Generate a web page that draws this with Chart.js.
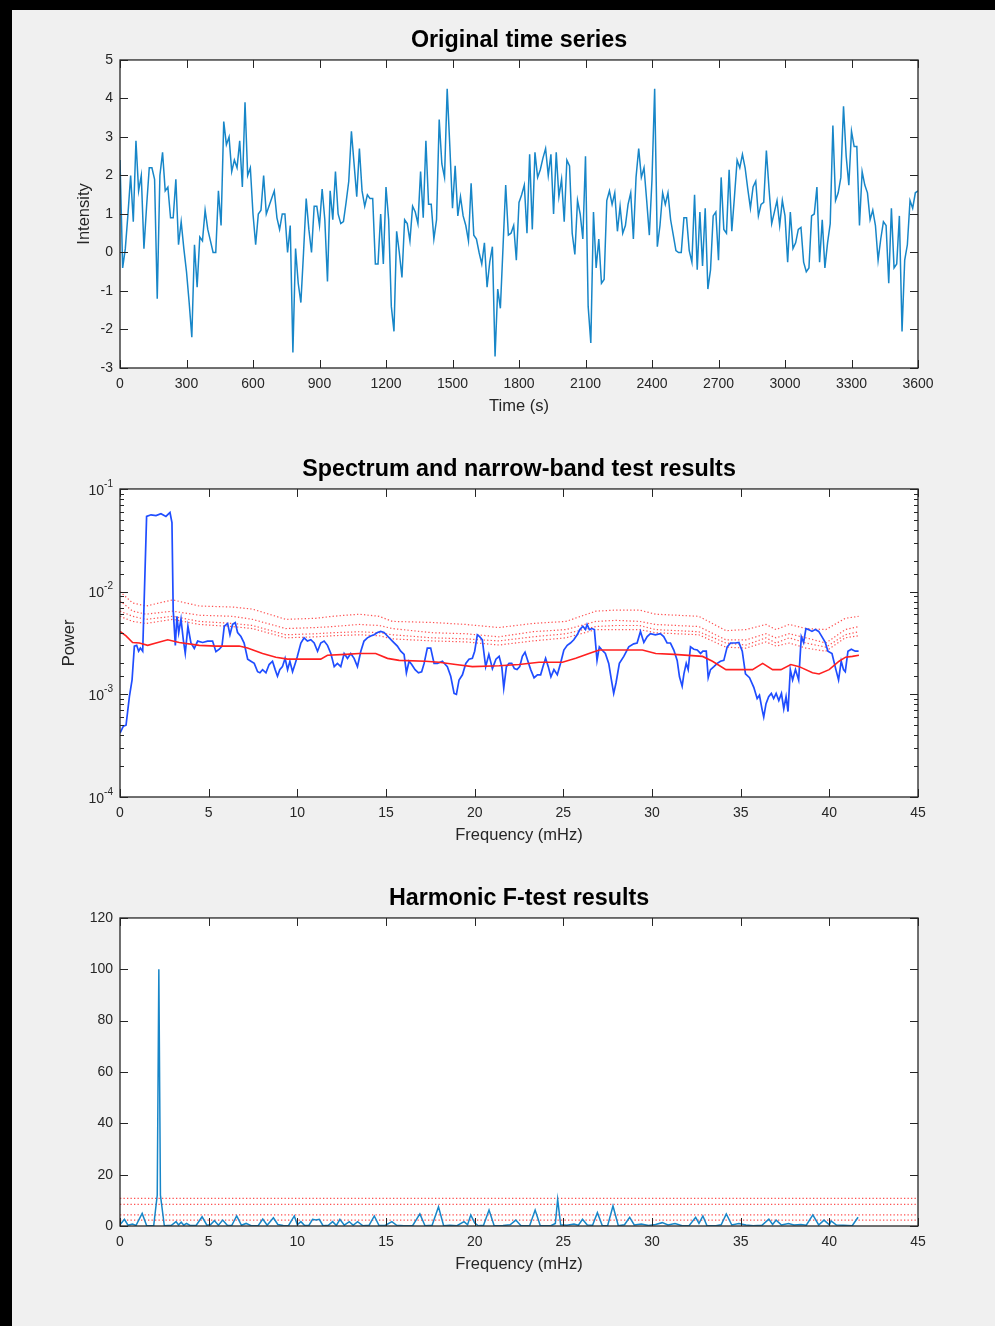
<!DOCTYPE html>
<html>
<head>
<meta charset="utf-8">
<script src="https://cdn.jsdelivr.net/npm/chart.js@4.4.1/dist/chart.umd.min.js"></script>
<style>
  body { margin: 0; width: 995px; height: 1326px; background: #000; position: relative; overflow: hidden; }
  #fig { position: absolute; left: 12px; top: 10px; width: 983px; height: 1316px; background: #f0f0f0; }
  .plot { position: absolute; left: 0; width: 995px; height: 429px; }
</style>
</head>
<body>
<div id="fig"></div>
<div class="plot" style="top:0px"><canvas id="seriesChart"></canvas></div>
<div class="plot" style="top:429px"><canvas id="spectrumChart"></canvas></div>
<div class="plot" style="top:858px"><canvas id="ftestChart"></canvas></div>
<script>
// ---------- data ----------

// original time series, one sample every 12 s from 0 to 3600 s
const dt = 12;
const intensity = [
  2.4,-0.4,0.1,1.0,2.0,0.8,2.9,1.6,2.0,0.1, 1.2,2.2,2.2,1.9,-1.2,2.0,2.6,1.6,1.7,0.9,
  0.9,1.9,0.2,0.8,0.1,-0.5,-1.3,-2.2,0.2,-0.9, 0.4,0.3,1.1,0.6,0.3,0.0,0.0,1.6,0.7,3.4,
  2.8,3.0,2.1,2.4,2.2,2.9,1.7,3.9,2.0,2.2, 1.0,0.2,1.0,1.1,2.0,1.0,1.2,1.4,1.6,0.9,
  0.6,1.0,1.0,0.0,0.7,-2.6,0.1,-0.8,-1.3,0.0, 1.4,0.6,0.0,1.2,1.2,
  0.7,1.65,0.85,-0.75,1.6,0.85,2.1,1.0,0.75,0.8, 1.3,1.85,3.15,2.3,1.45,2.7,1.6,1.2,1.5,1.4,
  1.4,-0.3,-0.3,1.0,-0.3,1.7,0.85,-1.4,-2.05,0.55, 0.0,-0.65,0.85,0.75,0.3,1.2,1.05,0.75,2.1,0.9,
  2.9,1.25,1.25,0.35,0.85,3.45,2.3,1.95,4.25,2.75, 1.15,2.25,0.95,1.45,0.95,0.7,0.3,1.8,0.45,0.35,
  0.0,-0.3,0.25,-0.9,-0.25,0.15,-2.7,-0.95,-1.45,0.15, 1.75,0.45,0.5,0.7,-0.2,
  1.3,1.5,1.75,0.5,2.55,0.6,2.6,1.95,2.15,2.45, 2.7,2.0,2.55,1.0,2.6,1.45,1.9,0.8,2.4,2.25,
  0.5,-0.05,1.35,1.0,0.35,2.5,-1.4,-2.35,1.05,-0.4, 0.35,-0.8,-0.7,1.35,1.6,1.25,1.55,0.55,1.2,0.5,
  0.7,1.25,1.55,0.35,1.95,2.7,1.95,2.2,1.35,0.45, 1.9,4.25,0.15,0.7,1.55,1.25,1.55,0.85,0.45,0.05,
  0.0,0.0,0.9,0.9,0.05,-0.25,1.5,-0.45,1.05,-0.35, 1.15,-0.95,-0.45,0.95,1.05,
  -0.2,1.95,0.6,0.5,2.15,0.55,1.45,2.4,2.2,2.55, 2.2,1.65,1.15,1.7,1.85,0.95,1.25,1.3,2.65,1.65,
  0.75,1.05,1.35,0.7,1.35,0.95,-0.25,1.05,0.1,0.25, 0.6,0.65,-0.25,-0.5,-0.4,0.95,1.0,1.7,-0.25,0.85,
  -0.4,0.25,0.75,3.3,1.35,1.55,1.95,3.8,2.5,1.75, 3.15,2.75,2.75,0.7,2.1,1.75,1.55,0.85,1.1,0.7,
  -0.2,0.35,0.8,0.7,-0.8,1.15,-0.4,-0.3,0.95,-2.05, -0.2,0.2,1.35,1.15,1.55,1.6
];

// spectrum (blue), mHz / power
const specFreq = [
  0,0.19,0.34,0.53,0.68,0.81,0.94,1.05,1.15,1.28,1.5,1.75,2.03,2.31,2.59,2.82,2.93,3.0,3.12,3.21,
  3.31,3.44,3.57,3.68,3.83,4.0,4.19,4.38,4.66,4.94,5.22,5.41,5.6,5.75,5.88,6.07,6.2,6.35,6.5,6.63,
  6.82,7.0,7.2,7.38,7.57,7.76,7.89,8.04,8.23,8.41,8.6,8.75,8.88,9.01,9.16,9.31,9.45,9.58,9.73,9.88,
  10.0,10.2,10.38,10.57,10.76,10.95,11.14,11.32,11.51,11.7,11.89,12.08,12.26,12.45,12.64,12.83,13.01,13.2,13.39,13.58,
  13.76,13.95,14.14,14.33,14.52,14.7,14.89,15.08,15.36,15.64,15.83,16.02,16.15,16.3,16.45,16.64,16.83,17.01,17.15,17.33,
  17.52,17.71,17.9,18.18,18.46,18.65,18.84,18.97,19.12,19.31,19.5,19.68,19.87,20.0,20.15,20.28,20.43,20.62,20.8,21.0,
  21.2,21.38,21.53,21.64,21.79,21.94,22.09,22.24,22.39,22.54,22.69,22.84,22.99,23.16,23.35,23.54,23.72,23.85,24.0,24.15,
  24.3,24.47,24.66,24.84,25.03,25.22,25.4,25.59,25.78,25.93,26.1,26.25,26.34,26.47,26.62,26.75,26.9,27.03,27.18,27.37,
  27.56,27.71,27.84,27.97,28.16,28.41,28.69,28.97,29.16,29.35,29.54,29.73,29.91,30.19,30.47,30.66,30.85,31.04,31.23,31.42,
  31.55,31.7,31.8,31.93,32.04,32.17,32.36,32.55,32.74,32.87,33.06,33.17,33.3,33.49,33.68,33.86,34.05,34.24,34.43,34.71,
  34.9,35.09,35.27,35.5,35.74,35.93,36.06,36.21,36.3,36.43,36.58,36.73,36.86,37.0,37.15,37.3,37.43,37.56,37.67,37.8,
  37.93,38.09,38.27,38.42,38.55,38.68,38.83,39.02,39.21,39.4,39.58,39.77,39.92,40.15,40.37,40.52,40.67,40.8,40.9,41.05,
  41.24,41.46,41.65
];
const specPower = [
  4.2e-4,4.9e-4,5.0e-4,9.5e-4,1.38e-3,2.95e-3,3.0e-3,2.63e-3,2.82e-3,2.63e-3,5.4e-2,5.6e-2,5.5e-2,5.75e-2,5.4e-2,5.9e-2,4.7e-2,6.6e-3,3.0e-3,5.75e-3,
  3.98e-3,5.4e-3,3.4e-3,2.5e-3,4.6e-3,3.16e-3,2.8e-3,3.3e-3,3.2e-3,3.3e-3,3.3e-3,2.6e-3,2.75e-3,2.95e-3,4.6e-3,4.9e-3,3.8e-3,4.8e-3,5.0e-3,4.0e-3,
  3.65e-3,3.16e-3,2.2e-3,2.1e-3,2.0e-3,1.66e-3,1.62e-3,1.74e-3,1.62e-3,1.95e-3,2.1e-3,1.74e-3,1.5e-3,1.74e-3,1.86e-3,2.24e-3,1.74e-3,2.1e-3,1.66e-3,2.0e-3,
  2.34e-3,3.16e-3,3.55e-3,3.3e-3,3.4e-3,3.16e-3,2.63e-3,3.16e-3,3.3e-3,3.0e-3,2.5e-3,1.86e-3,2.0e-3,1.86e-3,2.5e-3,2.24e-3,2.5e-3,2.24e-3,1.86e-3,2.63e-3,
  3.3e-3,3.55e-3,3.7e-3,3.8e-3,4.0e-3,4.1e-3,4.0e-3,3.7e-3,3.3e-3,2.95e-3,2.63e-3,2.45e-3,1.62e-3,2.1e-3,1.95e-3,1.74e-3,1.62e-3,1.66e-3,2.0e-3,2.82e-3,
  2.82e-3,2.0e-3,2.0e-3,2.1e-3,1.86e-3,1.5e-3,1.02e-3,1.0e-3,1.38e-3,1.55e-3,2.0e-3,2.2e-3,2.24e-3,2.63e-3,3.8e-3,3.65e-3,3.4e-3,1.86e-3,2.45e-3,1.78e-3,
  2.2e-3,2.34e-3,1.86e-3,1.15e-3,1.86e-3,2.0e-3,2.0e-3,1.78e-3,1.74e-3,1.86e-3,2.34e-3,2.57e-3,2.14e-3,1.74e-3,1.45e-3,1.55e-3,1.55e-3,1.86e-3,2.24e-3,1.86e-3,
  1.48e-3,1.74e-3,1.55e-3,2.0e-3,2.7e-3,3.0e-3,3.16e-3,3.4e-3,3.8e-3,4.27e-3,4.6e-3,4.27e-3,4.8e-3,4.27e-3,4.37e-3,4.27e-3,2.14e-3,2.9e-3,2.7e-3,2.5e-3,
  2.0e-3,1.38e-3,1.02e-3,1.29e-3,2.0e-3,2.34e-3,2.9e-3,3.1e-3,3.16e-3,4.1e-3,3.2e-3,3.65e-3,3.9e-3,3.8e-3,3.9e-3,3.65e-3,3.16e-3,3.16e-3,2.7e-3,2.14e-3,
  1.48e-3,1.2e-3,1.58e-3,2.0e-3,1.74e-3,2.9e-3,2.75e-3,2.7e-3,2.5e-3,2.63e-3,2.63e-3,1.45e-3,1.74e-3,1.86e-3,2.0e-3,2.1e-3,2.14e-3,2.9e-3,3.16e-3,3.16e-3,
  3.2e-3,2.63e-3,1.58e-3,1.45e-3,1.17e-3,9.1e-4,9.8e-4,7.1e-4,6.0e-4,8.1e-4,9.5e-4,1.02e-3,9.1e-4,1.02e-3,8.7e-4,1.02e-3,7.2e-4,9.5e-4,6.8e-4,1.74e-3,
  1.38e-3,1.74e-3,1.38e-3,3.65e-3,3.2e-3,4.37e-3,4.27e-3,4.1e-3,4.27e-3,4.1e-3,3.65e-3,3.2e-3,2.63e-3,2.5e-3,1.74e-3,1.38e-3,2.1e-3,1.74e-3,1.66e-3,2.63e-3,
  2.75e-3,2.63e-3,2.63e-3
];

// smoothed background spectrum (solid red)
const bgFreq = [0,0.34,0.71,1.09,1.56,2.03,2.69,3.34,4.47,5.41,6.72,7.19,8.04,8.79,9.45,10.1,11.32,11.7,12.73,13.48,
  14.42,15.08,15.74,17.24,17.99,18.93,19.87,21.38,22.5,23.63,24.95,25.7,26.45,27.02,27.96,29.46,30.21,31.25,32.85,33.41,
  34.17,34.92,35.67,36.24,36.8,37.27,37.83,38.3,39.05,39.42,39.99,40.55,40.92,41.3,41.67];
const bgPower = [4.1e-3,3.7e-3,3.2e-3,3.16e-3,3.0e-3,3.16e-3,3.4e-3,3.2e-3,3.0e-3,2.95e-3,2.95e-3,2.82e-3,2.5e-3,2.3e-3,2.2e-3,2.2e-3,2.2e-3,2.4e-3,2.45e-3,2.5e-3,
  2.5e-3,2.24e-3,2.14e-3,2.1e-3,2.05e-3,1.95e-3,1.86e-3,1.9e-3,1.95e-3,2.05e-3,2.05e-3,2.24e-3,2.5e-3,2.7e-3,2.7e-3,2.7e-3,2.5e-3,2.45e-3,2.34e-3,2.1e-3,
  1.74e-3,1.74e-3,1.74e-3,2.0e-3,1.74e-3,1.74e-3,1.95e-3,1.86e-3,1.62e-3,1.58e-3,1.74e-3,2.1e-3,2.3e-3,2.34e-3,2.4e-3];

// narrow-band significance levels (dotted red), top to bottom
const levFreq = [0,0.71,1.46,2.97,4.47,6.35,7.47,9.35,11.04,11.98,13.48,14.61,15.36,17.6,19.49,21.37,
  23.27,25.15,26.84,27.96,29.3,30.2,32.64,34.17,35.3,36.43,36.99,37.74,38.68,39.8,40.9,41.65];
const level1 = [1.0e-2,7.76e-3,7.24e-3,8.32e-3,7.24e-3,7.08e-3,6.76e-3,5.37e-3,5.5e-3,5.75e-3,6.03e-3,5.75e-3,5.13e-3,5.01e-3,4.79e-3,4.47e-3,
  4.9e-3,5.13e-3,6.46e-3,6.61e-3,6.61e-3,6.03e-3,5.75e-3,4.17e-3,4.27e-3,4.79e-3,4.27e-3,4.79e-3,4.37e-3,4.27e-3,5.5e-3,5.75e-3];
const level2 = [8.13e-3,6.46e-3,6.03e-3,6.46e-3,5.89e-3,5.75e-3,5.37e-3,4.37e-3,4.47e-3,4.57e-3,4.79e-3,4.68e-3,4.37e-3,3.98e-3,3.89e-3,3.63e-3,
  4.07e-3,4.27e-3,5.13e-3,5.25e-3,5.13e-3,4.79e-3,4.57e-3,3.39e-3,3.39e-3,3.89e-3,3.55e-3,3.89e-3,3.55e-3,3.16e-3,4.27e-3,4.57e-3];
const level3 = [6.46e-3,5.75e-3,5.37e-3,5.75e-3,5.13e-3,4.9e-3,4.68e-3,3.8e-3,3.89e-3,3.98e-3,4.07e-3,3.98e-3,3.8e-3,3.55e-3,3.47e-3,3.31e-3,
  3.63e-3,3.89e-3,4.57e-3,4.68e-3,4.68e-3,4.27e-3,4.07e-3,3.16e-3,3.02e-3,3.55e-3,3.16e-3,3.55e-3,3.16e-3,2.88e-3,3.8e-3,4.07e-3];
const level4 = [5.75e-3,5.13e-3,4.9e-3,5.37e-3,4.79e-3,4.57e-3,4.37e-3,3.55e-3,3.63e-3,3.72e-3,3.8e-3,3.72e-3,3.47e-3,3.31e-3,3.24e-3,3.02e-3,
  3.31e-3,3.55e-3,4.27e-3,4.27e-3,4.27e-3,3.98e-3,3.8e-3,2.88e-3,2.82e-3,3.24e-3,2.95e-3,3.16e-3,2.82e-3,2.63e-3,3.55e-3,3.72e-3];

// harmonic F-test statistic
const ftFreq = [0,0.25,0.45,0.7,0.9,1.25,1.5,1.9,2.1,2.19,2.28,2.5,2.9,3.16,3.3,3.45,3.6,3.75,3.95,4.3,
  4.63,4.9,5.1,5.32,5.55,5.79,6.05,6.3,6.58,6.85,7.11,7.4,7.8,8.05,8.3,8.65,8.9,9.2,9.5,9.83,
  10.0,10.2,10.4,10.65,10.86,11.05,11.24,11.45,11.75,11.99,12.2,12.4,12.65,12.93,13.15,13.4,13.7,14.05,14.34,14.6,
  14.95,15.33,15.6,16.0,16.5,16.91,17.2,17.6,17.96,18.25,18.6,19.0,19.4,19.6,19.78,20.0,20.2,20.5,20.81,21.1,
  21.6,22.0,22.32,22.6,23.1,23.41,23.7,24.3,24.55,24.68,24.85,25.2,25.6,25.85,26.08,26.35,26.65,26.92,27.2,27.5,
  27.8,28.1,28.45,28.74,29.0,29.4,29.8,30.2,30.58,30.9,31.3,31.7,32.1,32.46,32.65,32.87,33.1,33.6,33.9,34.19,
  34.5,34.9,35.3,35.7,36.2,36.59,36.8,37.0,37.3,37.7,38.0,38.4,38.7,39.07,39.4,39.7,40.0,40.1,40.4,40.8,
  41.29,41.62];
const ftValue = [0.5,2.6,0.3,0.8,0.2,4.9,0.2,0.1,12,100,12,0.1,0.3,1.7,0.4,1.5,0.3,1.0,0.2,0.3,
  3.6,0.3,0.5,2.1,0.3,2.3,0.3,0.2,3.9,0.3,1.0,0.1,0.2,2.7,0.3,3.2,0.6,0.2,0.1,3.9,
  0.5,1.7,0.3,0.2,2.6,2.3,2.6,0.1,0.3,1.7,0.2,2.6,0.3,1.7,0.3,1.7,0.1,0.3,3.9,0.3,
  0.2,1.7,0.3,0.1,0.1,4.7,0.1,0.3,7.5,0.1,0.3,0.1,1.7,0.5,4.3,1.2,0.1,0.3,6.2,0.1,
  0.2,0.5,2.3,0.2,0.1,6.2,0.1,0.1,1.0,10.4,0.5,0.3,0.8,0.3,2.6,0.4,0.3,5.2,0.1,0.2,
  7.8,0.1,0.5,3.4,0.4,0.8,0.2,0.6,1.3,0.4,1.0,0.1,0.2,3.4,1.0,3.9,0.1,0.1,0.5,4.7,
  0.4,1.0,0.4,0.1,0.3,2.7,0.6,2.3,0.4,1.0,0.4,0.6,0.3,4.3,0.4,2.3,0.5,2.0,0.4,0.3,
  0.1,3.4];
const ftLevels = [10.8, 8.4, 4.3, 2.3];

// ---------- styling ----------
const FONT = '"Liberation Sans", Helvetica, Arial, sans-serif';
const AXIS = '#262626';
const MBLUE = '#1786c8';
const SPEC_BLUE = '#1f4dff';
const RED = '#ff2020';
const DOT_RED = 'rgba(255,50,50,0.85)';

function pts(xs, ys) {
  return xs.map((x, i) => ({x: x, y: ys[i]}));
}

function isDecade(v) {
  const e = Math.log10(v);
  return Math.abs(e - Math.round(e)) < 1e-6;
}

// white axes, box, inward ticks and 10^n labels like a MATLAB figure
const matlabAxes = {
  id: 'matlabAxes',
  beforeDraw(chart) {
    const {ctx, chartArea: a} = chart;
    ctx.save();
    ctx.fillStyle = '#fff';
    ctx.fillRect(a.left, a.top, a.right - a.left, a.bottom - a.top);
    ctx.restore();
  },
  afterDatasetsDraw(chart) {
    const {ctx, chartArea: a} = chart;
    const x = chart.scales.x, y = chart.scales.y;
    const logY = y.type === 'logarithmic';
    ctx.save();
    ctx.strokeStyle = AXIS;
    ctx.lineWidth = 1;
    ctx.beginPath();
    x.ticks.forEach(t => {
      const px = Math.round(x.getPixelForValue(t.value)) + 0.5;
      ctx.moveTo(px, a.bottom); ctx.lineTo(px, a.bottom - 8);
      ctx.moveTo(px, a.top); ctx.lineTo(px, a.top + 8);
    });
    y.ticks.forEach(t => {
      const len = (logY && !isDecade(t.value)) ? 4 : 8;
      const py = Math.round(y.getPixelForValue(t.value)) + 0.5;
      ctx.moveTo(a.left, py); ctx.lineTo(a.left + len, py);
      ctx.moveTo(a.right, py); ctx.lineTo(a.right - len, py);
    });
    ctx.stroke();
    ctx.lineWidth = 1.3;
    ctx.strokeRect(a.left, a.top, a.right - a.left, a.bottom - a.top);

    // decade labels with a real superscript exponent
    if (logY) {
      ctx.fillStyle = AXIS;
      ctx.textAlign = 'right';
      ctx.textBaseline = 'middle';
      y.ticks.forEach(t => {
        if (!isDecade(t.value)) return;
        const py = y.getPixelForValue(t.value);
        const exp = String(Math.round(Math.log10(t.value)));
        const right = a.left - 7;
        ctx.font = '10px ' + FONT;
        const ew = ctx.measureText(exp).width;
        ctx.fillText(exp, right, py - 5);
        ctx.font = '14px ' + FONT;
        ctx.fillText('10', right - ew, py + 2);
      });
    }
    ctx.restore();
  }
};

function xAxis(max, step, label) {
  return {
    type: 'linear', min: 0, max: max,
    afterFit: s => { s.height = 50; },
    grid: {display: false, drawTicks: false},
    border: {display: false},
    ticks: {stepSize: step, autoSkip: false, maxRotation: 0, padding: 7.6, color: AXIS,
            font: {family: FONT, size: 14}, callback: v => String(v)},
    title: {display: true, text: label, color: AXIS, padding: {top: 0, bottom: 2},
            font: {family: FONT, size: 16.5}}
  };
}

function yAxis(extra, label, labelPad) {
  const base = {
    afterFit: s => { s.width = 120; },
    grid: {display: false, drawTicks: false},
    border: {display: false},
    title: {display: !!label, text: label || '', color: AXIS, padding: {top: labelPad || 0, bottom: 0},
            font: {family: FONT, size: 16.5}}
  };
  return Object.assign(base, extra);
}

function makeChart(id, title, datasets, xScale, yScale) {
  return new Chart(document.getElementById(id), {
    type: 'line',
    data: {datasets: datasets},
    options: {
      responsive: true,
      maintainAspectRatio: false,
      animation: false,
      layout: {padding: {left: 0, right: 77, top: 0, bottom: 11}},
      elements: {point: {radius: 0}, line: {tension: 0}},
      plugins: {
        legend: {display: false},
        tooltip: {enabled: false},
        title: {display: true, text: title, color: '#000', fullSize: false,
                font: {family: FONT, size: 23.3, weight: 'bold'},
                padding: {top: 26.5, bottom: 5.5}}
      },
      scales: {x: xScale, y: yScale}
    },
    plugins: [matlabAxes]
  });
}

// ---------- Original time series ----------
const seriesPts = intensity.map((v, i) => ({x: i * dt, y: v}));
makeChart('seriesChart', 'Original time series',
  [{data: seriesPts, borderColor: MBLUE, borderWidth: 1.5}],
  xAxis(3600, 300, 'Time (s)'),
  yAxis({type: 'linear', min: -3, max: 5,
         ticks: {stepSize: 1, autoSkip: false, padding: 7, color: AXIS, font: {family: FONT, size: 14}}},
        'Intensity', 75));

// ---------- Spectrum and narrow-band test ----------
const dotted = (ys) => ({data: pts(levFreq, ys), borderColor: DOT_RED, borderWidth: 1.2, borderDash: [1.3, 2.2]});
makeChart('spectrumChart', 'Spectrum and narrow-band test results',
  [
    {data: pts(bgFreq, bgPower), borderColor: RED, borderWidth: 1.6},
    {data: pts(specFreq, specPower), borderColor: SPEC_BLUE, borderWidth: 1.7},
    dotted(level1), dotted(level2), dotted(level3), dotted(level4)
  ],
  xAxis(45, 5, 'Frequency (mHz)'),
  yAxis({type: 'logarithmic', min: 1e-4, max: 1e-1,
         ticks: {autoSkip: false, padding: 7, color: AXIS, font: {family: FONT, size: 14},
                 callback: () => ''}},
        'Power', 60));

// ---------- Harmonic F-test ----------
const ftSets = [{data: pts(ftFreq, ftValue), borderColor: MBLUE, borderWidth: 1.5}];
ftLevels.forEach(l => ftSets.push({data: [{x: 0, y: l}, {x: 45, y: l}], borderColor: DOT_RED,
                                    borderWidth: 1.2, borderDash: [1.3, 2.2]}));
makeChart('ftestChart', 'Harmonic F-test results', ftSets,
  xAxis(45, 5, 'Frequency (mHz)'),
  yAxis({type: 'linear', min: 0, max: 120,
         ticks: {stepSize: 20, autoSkip: false, padding: 7, color: AXIS, font: {family: FONT, size: 14}}}));
</script>
</body>
</html>
